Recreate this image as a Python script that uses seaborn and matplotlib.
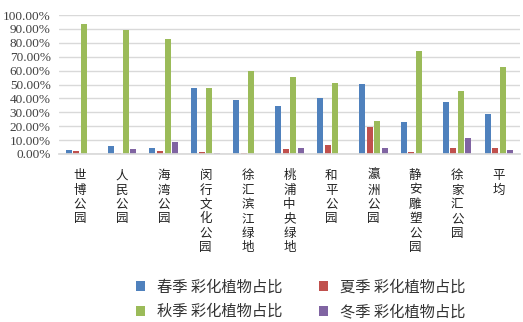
import pandas as pd
import matplotlib.pyplot as plt
import seaborn as sns
from matplotlib.patches import Patch
from matplotlib.ticker import PercentFormatter

# ---- data ----
PARKS = ["世博公园", "人民公园", "海湾公园", "闵行文化公园", "徐汇滨江绿地", "桃浦中央绿地",
         "和平公园", "瀛洲公园", "静安雕塑公园", "徐家汇公园", "平均"]
SERIES = ["春季 彩化植物占比", "夏季 彩化植物占比", "秋季 彩化植物占比", "冬季 彩化植物占比"]
SPRING = [0.029, 0.058, 0.043, 0.475, 0.388, 0.345, 0.403, 0.504, 0.230, 0.374, 0.288]
SUMMER = [0.022, 0.008, 0.022, 0.014, 0.007, 0.036, 0.065, 0.194, 0.014, 0.043, 0.043]
AUTUMN = [0.935, 0.892, 0.829, 0.475, 0.597, 0.554, 0.511, 0.237, 0.741, 0.453, 0.626]
WINTER = [0.000, 0.036, 0.086, 0.007, 0.000, 0.043, 0.000, 0.043, 0.000, 0.115, 0.029]

COLORS = ["#4F81BD", "#C0504D", "#9BBB59", "#8064A2"]

sns.set_theme(style="white")
plt.rcParams["font.family"] = ["Noto Sans CJK SC", "DejaVu Sans"]

rows = []
for name, vals in zip(SERIES, [SPRING, SUMMER, AUTUMN, WINTER]):
    for park, v in zip(PARKS, vals):
        rows.append({"park": park, "season": name, "value": v})
df = pd.DataFrame(rows)

fig = plt.figure(figsize=(5.23, 3.22), dpi=100)
ax = fig.add_axes([59 / 523, 1 - 154 / 322, 461 / 523, 139 / 322])

sns.barplot(data=df, x="park", y="value", hue="season", hue_order=SERIES,
            palette=COLORS, width=0.72, gap=0.2, ax=ax, legend=False,
            edgecolor="none", linewidth=0, saturation=1)

ax.set_ylim(0, 1.0)
ax.set_yticks([i / 10 for i in range(11)])
ax.yaxis.set_major_formatter(PercentFormatter(1.0, decimals=2))
ax.grid(axis="y", color="#D9D9D9", linewidth=1)
ax.set_axisbelow(True)
for s in ["top", "right", "left"]:
    ax.spines[s].set_visible(False)
ax.spines["bottom"].set_color("#D9D9D9")
ax.set_xlabel("")
ax.set_ylabel("")
ax.tick_params(axis="y", length=0, pad=6)
ax.tick_params(axis="x", length=0, pad=11)
for lab in ax.get_yticklabels():
    lab.set_family(["Liberation Serif"])
    lab.set_fontsize(9.5)
    lab.set_color("#404040")

ax.set_xticks(range(len(PARKS)))
ax.set_xticklabels(["\n".join(p) for p in PARKS], fontsize=9,
                   linespacing=1.14, va="top", color="#222222")

# row-wise legend order: 春 夏 / 秋 冬
order = [0, 2, 1, 3]
handles = [Patch(facecolor=COLORS[i], edgecolor="none") for i in order]
labels = [SERIES[i] for i in order]
fig.legend(handles, labels, loc="lower center", ncol=2, frameon=False,
           bbox_to_anchor=(0.575, -0.037), fontsize=11, handlelength=0.6,
           handleheight=0.6, columnspacing=2.4, handletextpad=0.8,
           labelspacing=0.5, labelcolor="#333333")

fig.savefig("out.png", dpi=100)
